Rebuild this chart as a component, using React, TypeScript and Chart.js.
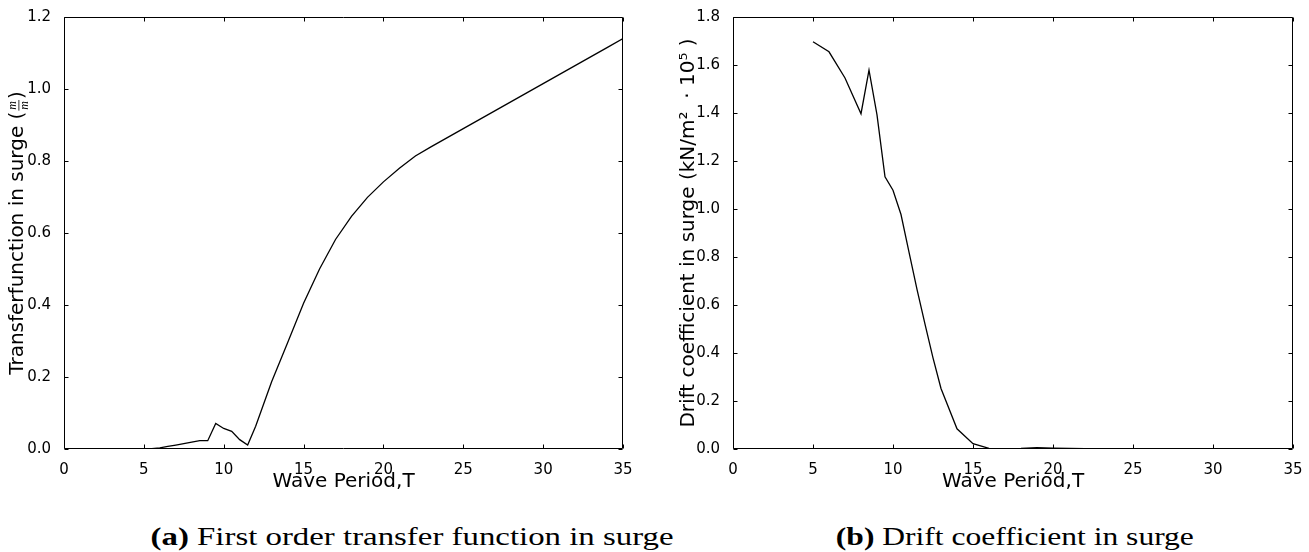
import React, { useEffect, useLayoutEffect, useRef } from "react";
import { Chart, registerables } from "chart.js";

Chart.register(...registerables);

// ---------------- data ----------------
const xTickValues = [0, 5, 10, 15, 20, 25, 30, 35];
const transferTickValues = [0, 0.2, 0.4, 0.6, 0.8, 1.0, 1.2];
const driftTickValues = [0, 0.2, 0.4, 0.6, 0.8, 1.0, 1.2, 1.4, 1.6, 1.8];

const transferPeriods = [
  5, 5.5, 6, 6.5, 7, 7.5, 8, 8.5, 9, 9.5, 10, 10.5, 11, 11.5, 12, 12.5,
  13, 14, 15, 16, 17, 18, 19, 20, 21, 22, 23, 24, 25, 26, 27, 28, 29, 30,
  31, 32, 33, 34, 35,
];
const transferValues = [
  0, 0.001, 0.003, 0.007, 0.011, 0.015, 0.019, 0.023, 0.023, 0.071, 0.057,
  0.049, 0.026, 0.011, 0.063, 0.125, 0.187, 0.295, 0.405, 0.5, 0.582, 0.646,
  0.699, 0.742, 0.78, 0.814, 0.84, 0.865, 0.89, 0.915, 0.94, 0.965, 0.99,
  1.015, 1.04, 1.065, 1.09, 1.115, 1.14,
];

const driftPeriods = [
  5, 6, 7, 8, 8.5, 9, 9.5, 10, 10.5, 11, 11.5, 12, 12.5, 13, 14, 15, 16, 17,
  18, 19, 20, 21, 22, 23, 24, 25,
];
const driftValues = [
  1.697, 1.655, 1.546, 1.397, 1.579, 1.392, 1.134, 1.078, 0.977, 0.82, 0.665,
  0.52, 0.38, 0.252, 0.084, 0.022, 0.003, 0.001, 0.002, 0.006, 0.004, 0.002,
  0.001, 0, 0, 0,
];

const xTitle = "Wave Period,T";
const transferTitleMain = "Transferfunction in surge (";
const driftTitle = "Drift coefficient in surge (kN/m\u00B2  \u00B7 10\u2075 )";
const captionA = { label: "(a)", text: "First order transfer function in surge" };
const captionB = { label: "(b)", text: "Drift coefficient in surge" };

// ---------------- styles ----------------
const SANS = '"DejaVu Sans", sans-serif';
const SERIF = '"Liberation Serif", "DejaVu Serif", serif';
const TICK_FONT = { family: SANS, size: 15 };
const TITLE_FONT = { family: SANS, size: 20 };

const framePlugin = {
  id: "mplFrame",
  afterDraw(chart: any) {
    const { ctx, chartArea: a, scales } = chart;
    const L = Math.round(a.left) + 0.5;
    const R = Math.round(a.right) - 0.5;
    const T = Math.round(a.top) + 0.5;
    const B = Math.round(a.bottom) - 0.5;
    ctx.save();
    ctx.strokeStyle = "#000";
    ctx.lineWidth = 1;
    ctx.beginPath();
    ctx.rect(L, T, R - L, B - T);
    ctx.stroke();
    const tl = 4;
    ctx.beginPath();
    scales.x.ticks.forEach((t: any) => {
      const px = Math.round(scales.x.getPixelForValue(t.value)) + 0.5;
      ctx.moveTo(px, B);
      ctx.lineTo(px, B - tl);
      ctx.moveTo(px, T);
      ctx.lineTo(px, T + tl);
    });
    scales.y.ticks.forEach((t: any) => {
      const py = Math.round(scales.y.getPixelForValue(t.value)) + 0.5;
      ctx.moveTo(L, py);
      ctx.lineTo(L + tl, py);
      ctx.moveTo(R, py);
      ctx.lineTo(R - tl, py);
    });
    ctx.stroke();
    ctx.restore();
  },
};

const transferTitlePlugin = {
  id: "transferTitle",
  afterDraw(chart: any) {
    const { ctx, chartArea: a } = chart;
    const cy = (a.top + a.bottom) / 2;
    ctx.save();
    ctx.translate(18, cy);
    ctx.rotate(-Math.PI / 2);
    ctx.fillStyle = "#000";
    ctx.textBaseline = "middle";
    const mainFont = `20px ${SANS}`;
    const fracFont = `italic 12px ${SERIF}`;
    ctx.font = mainFont;
    const w1 = ctx.measureText(transferTitleMain).width;
    const w3 = ctx.measureText(")").width;
    ctx.font = fracFont;
    const wf = ctx.measureText("m").width + 4;
    const total = w1 + wf + w3;
    let x = -total / 2;
    ctx.font = mainFont;
    ctx.textAlign = "left";
    ctx.fillText(transferTitleMain, x, 0);
    x += w1;
    ctx.font = fracFont;
    ctx.textAlign = "center";
    ctx.fillText("m", x + wf / 2, -5);
    ctx.fillText("m", x + wf / 2, 7);
    ctx.fillRect(x + 1, 0.5, wf - 2, 0.8);
    x += wf;
    ctx.font = mainFont;
    ctx.textAlign = "left";
    ctx.fillText(")", x, 0);
    ctx.restore();
  },
};

function makeConfig(opts: {
  periods: number[];
  values: number[];
  yMax: number;
  yTicks: number[];
  yWidth: number;
  padRight: number;
  yTitle: string | null;
  yTitlePad: number;
  extraPlugins: any[];
}) {
  return {
    type: "line" as const,
    data: {
      datasets: [
        {
          data: opts.periods.map((p, i) => ({ x: p, y: opts.values[i] })),
          borderColor: "#000",
          borderWidth: 1.3,
          pointRadius: 0,
          tension: 0,
          fill: false,
        },
      ],
    },
    options: {
      animation: false as const,
      responsive: false,
      maintainAspectRatio: false,
      devicePixelRatio: 1,
      layout: { padding: { top: 17, right: opts.padRight, left: 0, bottom: 0 } },
      plugins: { legend: { display: false }, tooltip: { enabled: false } },
      scales: {
        x: {
          type: "linear" as const,
          min: 0,
          max: 35,
          afterBuildTicks: (s: any) => {
            s.ticks = xTickValues.map((v) => ({ value: v }));
          },
          ticks: {
            font: TICK_FONT,
            color: "#000",
            padding: 4,
            maxRotation: 0,
            autoSkip: false,
            callback: (v: any) => String(v),
          },
          grid: { display: false },
          border: { display: false },
          title: {
            display: true,
            text: xTitle,
            font: TITLE_FONT,
            color: "#000",
            padding: { top: 0, bottom: 6 },
          },
          afterFit: (s: any) => {
            s.height = 51;
          },
        },
        y: {
          type: "linear" as const,
          min: 0,
          max: opts.yMax,
          afterBuildTicks: (s: any) => {
            s.ticks = opts.yTicks.map((v) => ({ value: v }));
          },
          ticks: {
            font: TICK_FONT,
            color: "#000",
            padding: 5,
            autoSkip: false,
            callback: (v: any) => Number(v).toFixed(1),
          },
          grid: { display: false },
          border: { display: false },
          title: {
            display: !!opts.yTitle,
            text: opts.yTitle || "",
            font: TITLE_FONT,
            color: "#000",
            padding: { top: opts.yTitlePad, bottom: 0 },
          },
          afterFit: (s: any) => {
            s.width = opts.yWidth;
          },
        },
      },
    },
    plugins: [framePlugin, ...opts.extraPlugins],
  };
}

function ChartCanvas(props: { width: number; height: number; left: number; config: any }) {
  const ref = useRef<HTMLCanvasElement | null>(null);
  useEffect(() => {
    if (!ref.current) return;
    const chart = new Chart(ref.current, props.config);
    return () => chart.destroy();
  }, []);
  return (
    <canvas
      ref={ref}
      width={props.width}
      height={props.height}
      style={{
        position: "absolute",
        left: props.left,
        top: 0,
        width: props.width,
        height: props.height,
        display: "block",
      }}
    />
  );
}

function Caption(props: { label: string; text: string; center: number; width: number; top: number }) {
  const ref = useRef<HTMLSpanElement | null>(null);
  useLayoutEffect(() => {
    const el = ref.current;
    if (!el) return;
    el.style.transform = "none";
    const w = el.getBoundingClientRect().width;
    if (w > 0) el.style.transform = `scaleX(${props.width / w})`;
  }, []);
  return (
    <div
      style={{
        position: "absolute",
        left: props.center - 400,
        width: 800,
        top: props.top,
        textAlign: "center",
        fontFamily: SERIF,
        fontSize: 25,
        lineHeight: "30px",
        color: "#000",
        whiteSpace: "nowrap",
      }}
    >
      <span ref={ref} style={{ display: "inline-block", transformOrigin: "center" }}>
        <b>{props.label}</b> {props.text}
      </span>
    </div>
  );
}

export default function App() {
  const leftConfig = makeConfig({
    periods: transferPeriods,
    values: transferValues,
    yMax: 1.2,
    yTicks: transferTickValues,
    yWidth: 64,
    padRight: 32,
    yTitle: null,
    yTitlePad: 0,
    extraPlugins: [transferTitlePlugin],
  });
  const rightConfig = makeConfig({
    periods: driftPeriods,
    values: driftValues,
    yMax: 1.8,
    yTicks: driftTickValues,
    yWidth: 78,
    padRight: 16,
    yTitle: driftTitle,
    yTitlePad: 22,
    extraPlugins: [],
  });
  return (
    <div
      style={{
        position: "absolute",
        left: 0,
        top: 0,
        width: 1309,
        height: 552,
        background: "#fff",
        overflow: "hidden",
      }}
    >
      <ChartCanvas width={655} height={500} left={0} config={leftConfig} />
      <ChartCanvas width={654} height={500} left={655} config={rightConfig} />
      <Caption label={captionA.label} text={captionA.text} center={412} width={523} top={522} />
      <Caption label={captionB.label} text={captionB.text} center={1015} width={358} top={522} />
    </div>
  );
}
